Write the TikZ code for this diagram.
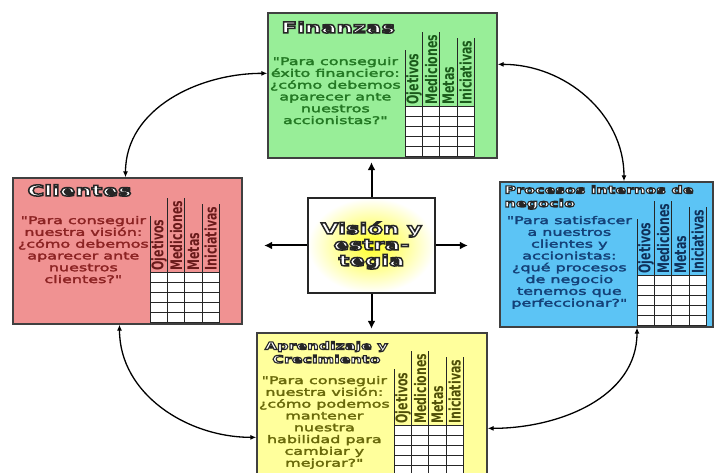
\documentclass[tikz,border=0pt]{standalone}
\usepackage{fontspec}
\usepackage{graphicx}
\usetikzlibrary{arrows.meta}
\newfontfamily\bodyfont[FakeStretch=1.52]{DejaVu Sans}
\newfontfamily\titlefont[FakeStretch=1.52]{DejaVu Sans Bold}
\newfontfamily\headfont{DejaVu Sans Bold}
% stroke the glyphs: thin in their own ink, or a dark rim round white letters
\newcommand\inked{\special{pdf:literal direct 2 Tr 0.3 w}}
\newcommand\rimmed[1][1.5]{\special{pdf:literal direct 2 Tr #1 w 0.15 0.15 0.15 RG}}
\newcommand\plain{\special{pdf:literal direct 0 Tr}}
\definecolor{finFill}{RGB}{152,238,152}
\definecolor{cliFill}{RGB}{240,146,146}
\definecolor{proFill}{RGB}{92,196,245}
\definecolor{aprFill}{RGB}{255,255,156}
\definecolor{finInk}{RGB}{35,120,35}
\definecolor{cliInk}{RGB}{140,35,35}
\definecolor{proInk}{RGB}{20,65,120}
\definecolor{aprInk}{RGB}{105,105,10}
\begin{document}
\begin{tikzpicture}[x=1pt, y=1pt,
card/.style={rectangle, draw=black!75, line width=1.3pt, inner sep=0pt},
bigtitle/.style={inner sep=0pt, text=white, font={\titlefont\fontsize{15}{16}\selectfont}},
smalltitle/.style={inner sep=0pt, text=white, font={\titlefont\fontsize{10.5}{13.5}\selectfont}},
question/.style={inner sep=0pt, align=center, font={\bodyfont\fontsize{10.5}{11.8}\selectfont}},
colhead/.style={inner sep=0pt, anchor=west, rotate=90, font={\headfont\fontsize{11}{11}\selectfont}},
gridline/.style={draw=black!85, line width=1.1pt},
push/.style={line width=2pt, -{Latex[length=8pt, width=8pt]}},
link/.style={line width=1.3pt, {Latex[length=6pt, width=5pt]}-{Latex[length=6pt, width=5pt]}},
]
\useasboundingbox (0,0) rectangle (718,473);
\clip (0,0) rectangle (718,473);

% the four perspectives
\node[card, fill=finFill, minimum width=229, minimum height=145] (fin) at (382.5,387.5) {};
\node[card, fill=cliFill, minimum width=229, minimum height=146] (cli) at (127.5,222) {};
\node[card, fill=proFill, minimum width=213, minimum height=145] (pro) at (606.5,218.5) {};
\node[card, fill=aprFill, minimum width=230, minimum height=144] (apr) at (372,68) {};

% titles
\node[bigtitle, anchor=west] (fin-t) at ([shift={(14,-15)}]fin.north west) {\rimmed Finanzas\plain};
\node[bigtitle, anchor=west] (cli-t) at ([shift={(15,-13)}]cli.north west) {\rimmed Clientes\plain};
\node[smalltitle, anchor=north west, align=left] (pro-t) at ([shift={(5,-4)}]pro.north west)
	{\rimmed[1.1]Procesos internos de\\negocio\plain};
\node[smalltitle, anchor=north, align=center] (apr-t) at ([shift={(70,-9)}]apr.north west)
	{\rimmed[1.1]Aprendizaje y\\Crecimiento\plain};

% questions
\node[question, anchor=north, text=finInk] (fin-q) at ([shift={(68,-44.5)}]fin.north west)
	{\inked"Para conseguir\\éxito financiero:\\¿cómo debemos\\aparecer ante\\nuestros\\accionistas?"\plain};
\node[question, anchor=north, text=cliInk] (cli-q) at ([shift={(71,-38.5)}]cli.north west)
	{\inked"Para conseguir\\nuestra visión:\\¿cómo debemos\\aparecer ante\\nuestros\\clientes?"\plain};
\node[question, anchor=north, text=proInk] (pro-q) at ([shift={(70,-34.5)}]pro.north west)
	{\inked"Para satisfacer\\a nuestros\\clientes y\\accionistas:\\¿qué procesos\\de negocio\\tenemos que\\perfeccionar?"\plain};
\node[question, anchor=north, text=aprInk] (apr-q) at ([shift={(68,-43.5)}]apr.north west)
	{\inked"Para conseguir\\nuestra visión:\\¿cómo podemos\\mantener\\nuestra\\habilidad para\\cambiar y\\mejorar?"\plain};

% score tables
\foreach \b/\ink in {fin/finInk, cli/cliInk, pro/proInk, apr/aprInk}{
	\coordinate (\b-g) at ([shift={(138,2)}]\b.south west);
	\fill[white] (\b-g) rectangle ++(69,50);
	\foreach \i in {0,...,5}
		\draw[gridline] ([yshift=\i*10]\b-g) -- ++(69,0);
	\foreach \t [count=\k] in {Ojetivos,Mediciones,Metas,Iniciativas}{
		\node[colhead, text=\ink!75!black] (\b-h\k) at ([shift={(\k*17.25-8.625,52)}]\b-g) {\scalebox{1}[1.45]{\t}};
		\coordinate (\b-l\k) at ([xshift=\k*17.25-17.25]\b-g);
		\coordinate (\b-r\k) at ([xshift=\k*17.25]\b-g);
		\draw[gridline] (\b-l\k) -- (\b-l\k |- \b-h\k.east) -- ++(0,3);
		\draw[gridline] (\b-r\k) -- (\b-r\k |- \b-h\k.east) -- ++(0,3);
	}
}

% vision in the middle
\node[card, draw=black!85, line width=1.6pt, inner color=yellow!85, outer color=white,
	minimum width=127, minimum height=95] (vis) at (371.5,227.5) {};
\node[bigtitle, align=center] (vis-t) at (vis.center)
	{\rimmed Visión y\\estra-\\tegia\plain};

\coordinate (vis-up) at ([yshift=35]vis.north);
\coordinate (vis-down) at ([yshift=-35]vis.south);
\coordinate (vis-left) at ([xshift=-43]vis.west);
\coordinate (vis-right) at ([xshift=32]vis.east);
\draw[push] (vis.north) -- (vis-up);
\draw[push] (vis.south) -- (vis-down);
\draw[push] (vis.west) -- (vis-left);
\draw[push] (vis.east) -- (vis-right);

% links between perspectives
\draw[link] ([yshift=-61]fin.north west) to[out=180, in=90] ([xshift=-2]cli.north);
\draw[link] ([yshift=-52]fin.north east) to[out=0, in=90] ([xshift=17.5]pro.north);
\draw[link] ([xshift=-8]cli.south) to[out=-90, in=180] ([yshift=-105]apr.north west);
\draw[link] ([xshift=30.5]pro.south) to[out=-90, in=0] ([yshift=-96]apr.north east);
\end{tikzpicture}
\end{document}
